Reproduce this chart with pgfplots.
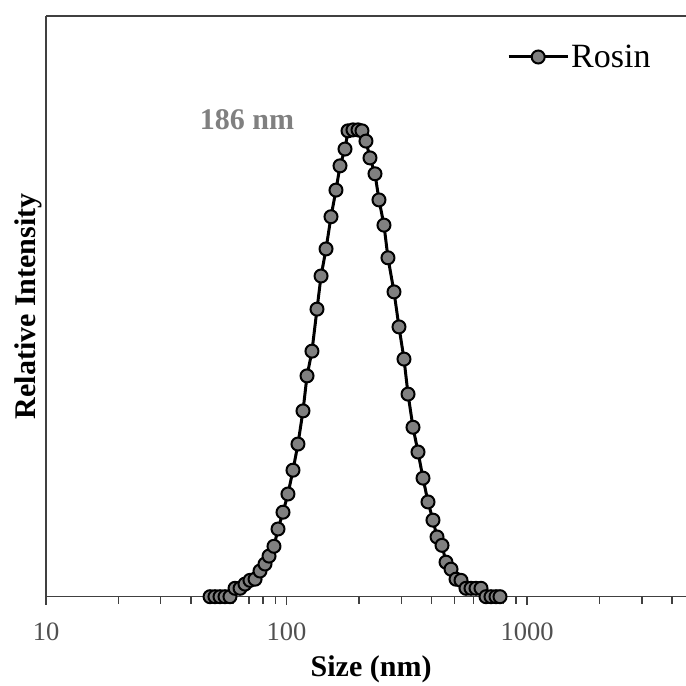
\documentclass[border=0pt]{standalone}
\usepackage{pgfplots}
\pgfplotsset{compat=1.18}
\usepackage{fontspec}
\setmainfont{Liberation Serif}
\definecolor{axgray}{RGB}{64,64,64}
\definecolor{tickgray}{RGB}{80,80,80}
\definecolor{markgray}{RGB}{128,128,128}
\definecolor{anngray}{RGB}{128,128,128}
\begin{document}
\begin{tikzpicture}
\begin{axis}[
  scale only axis, width=640pt, height=580.7pt,
  xmode=log, xmin=10, xmax=4583, ymin=0, ymax=124.4,
  axis lines=left, axis line style={-, line width=1.5pt, color=axgray},
  clip=false,
  ytick=\empty,
  xtick={10,100,1000}, xticklabels={10,100,1000},
  minor xtick={20,30,40,50,60,70,80,90,200,300,400,500,600,700,800,900,2000,3000,4000},
  tick align=outside, major tick length=8pt, minor tick length=7pt,
  tick style={line width=1.5pt, color=axgray},
  xticklabel style={font=\fontsize{26.5}{30}\selectfont, text=tickgray, anchor=base, yshift=-36pt},
  xlabel={Size (nm)}, ylabel={Relative Intensity},
  every axis x label/.style={at={([yshift=-80pt]rel axis cs:0.508,0)}, anchor=base, font=\bfseries\fontsize{30}{34}\selectfont},
  every axis y label/.style={at={([xshift=-11pt]rel axis cs:0,0.5)}, anchor=base, rotate=90, font=\bfseries\fontsize{30}{34}\selectfont},
  legend style={draw=none, fill=none, at={(rel axis cs:0.7203,0.9294)}, anchor=west, inner sep=0pt,
    font=\fontsize{34}{38}\selectfont, /tikz/every even column/.append style={column sep=5pt}},
  legend cell align=left,
  legend image code/.code={\draw[mark repeat=2,mark phase=2] plot coordinates {(0pt,0pt) (29.5pt,0pt) (59pt,0pt)};},
]
\addplot[black, line width=3pt, mark=*, mark size=6.5pt, mark options={fill=markgray, draw=black, line width=2pt}] table {
x y
48.1 0
50.4 0
52.9 0
55.5 0
58.2 0
61.1 1.8
64.1 1.8
67.2 2.7
70.5 3.5
74.0 3.75
77.6 5.5
81.4 7.0
84.6 8.7
88.7 10.8
92.2 14.5
96.7 18.1
101.4 22.0
106.4 27.1
111.6 32.7
117.1 39.8
121.7 47.3
127.6 52.6
133.9 61.6
139.2 68.7
146.0 74.5
153.1 81.4
160.6 87.1
166.9 92.3
175.1 95.9
180.2 99.8
189.0 100
198.3 100
206.0 99.8
214.0 97.6
222.4 94.0
233.3 90.6
242.4 85.0
254.3 79.6
264.2 72.6
279.9 65.3
293.6 57.8
308.0 50.9
320.1 43.4
335.7 36.3
352.2 31.0
369.5 25.4
387.6 20.3
406.5 16.4
422.5 12.8
443.2 11.0
460.5 7.4
483.1 5.9
506.8 3.75
531.6 3.5
557.7 1.8
585.0 1.8
613.7 1.8
643.8 1.8
675.3 0
708.5 0
743.2 0
772.2 0
};
\addlegendentry{Rosin}
\draw[line width=1.5pt, axgray] (rel axis cs:0,1) -- (rel axis cs:1,1);
\node[anchor=base, font=\bfseries\fontsize{30}{34}\selectfont, text=anngray] at (axis cs:68.5,100) {186 nm};
\coordinate (bl) at (rel axis cs:0,0);
\coordinate (tr) at (rel axis cs:1,1);
\end{axis}
\pgfresetboundingbox
\path[use as bounding box] ([xshift=-46pt,yshift=-89.3pt]bl) rectangle ([yshift=16pt]tr);
\end{tikzpicture}
\end{document}
